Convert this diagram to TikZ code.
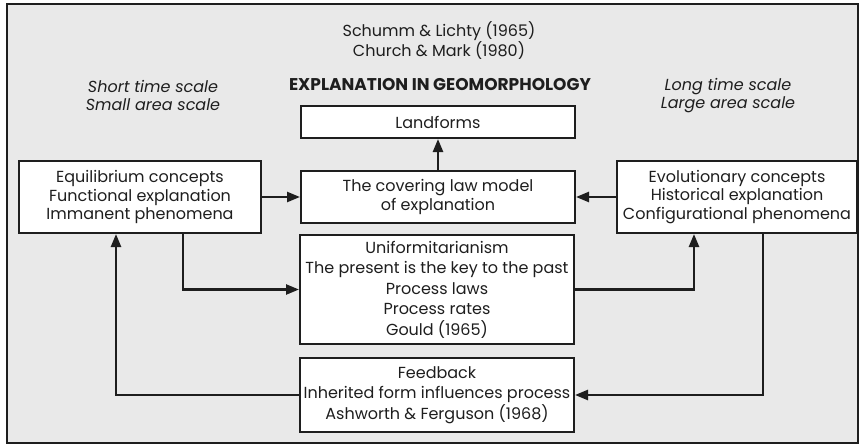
\documentclass[tikz,border=0pt]{standalone}
\usepackage{fontspec}
\setmainfont{Poppins}
\usetikzlibrary{arrows.meta}
\definecolor{framegray}{HTML}{E9E9E9}
\definecolor{ink}{HTML}{1E1E1E}
\tikzset{
  box/.style={draw=ink, line width=2pt, fill=white, inner sep=0pt, align=center,
    font=\fontsize{16}{18.5}\selectfont},
  tallbox/.style={box, font=\fontsize{16}{20.5}\selectfont},
  caption/.style={align=center, font=\fontsize{16}{18.5}\selectfont},
  link/.style={draw=ink, line width=2.4pt, -{Triangle[length=13pt,width=10pt]}}
}
\begin{document}
\begin{tikzpicture}[x=1pt,y=-1pt,text=ink]
        \useasboundingbox (0,0) rectangle (859,444);
        \draw[ink,line width=1.5pt,fill=framegray] (7,4) rectangle (858,443);
        \node[caption] (refs) at (439,40.5) {Schumm \& Lichty (1965)\\Church \& Mark (1980)};
        \node[caption,font=\fontsize{17}{18.5}\selectfont\bfseries] (title) at (440,85) {EXPLANATION IN GEOMORPHOLOGY};
        \node[caption,font=\fontsize{16}{18.5}\selectfont\itshape] (short) at (153,95.5) {Short time scale\\Small area scale};
        \node[caption,font=\fontsize{16}{18.5}\selectfont\itshape] (long) at (728,95.5) {Long time scale\\Large area scale};
        \node[box,minimum width=274pt,minimum height=32pt] (landforms) at (438,122) {Landforms};
        \node[box,minimum width=274pt,minimum height=52pt] (covering) at (438,197) {The covering law model\\of explanation};
        \node[box,minimum width=242pt,minimum height=72pt] (equilibrium) at (140,197) {Equilibrium concepts\\Functional explanation\\Immanent phenomena};
        \node[box,minimum width=240pt,minimum height=72pt] (evolution) at (737,197) {Evolutionary concepts\\Historical explanation\\Configurational phenomena};
        \node[tallbox,minimum width=274pt,minimum height=109pt] (uniformity) at (437,289.5) {Uniformitarianism\\The present is the key to the past\\Process laws\\Process rates\\Gould (1965)};
        \node[tallbox,minimum width=274pt,minimum height=74pt] (feedback) at (437,395) {Feedback\\Inherited form influences process\\Ashworth \& Ferguson (1968)};
        \draw[link] (covering) -- (landforms);
        \draw[link] (equilibrium) -- (covering);
        \draw[link] (evolution) -- (covering);
        \draw[link] ([xshift=43pt]equilibrium.south) |- (uniformity);
        \draw[link] (uniformity) -| ([xshift=-43pt]evolution.south);
        \draw[link] ([xshift=26pt]evolution.south) |- (feedback);
        \draw[link] (feedback) -| ([xshift=-24pt]equilibrium.south);
      \end{tikzpicture}
\end{document}
